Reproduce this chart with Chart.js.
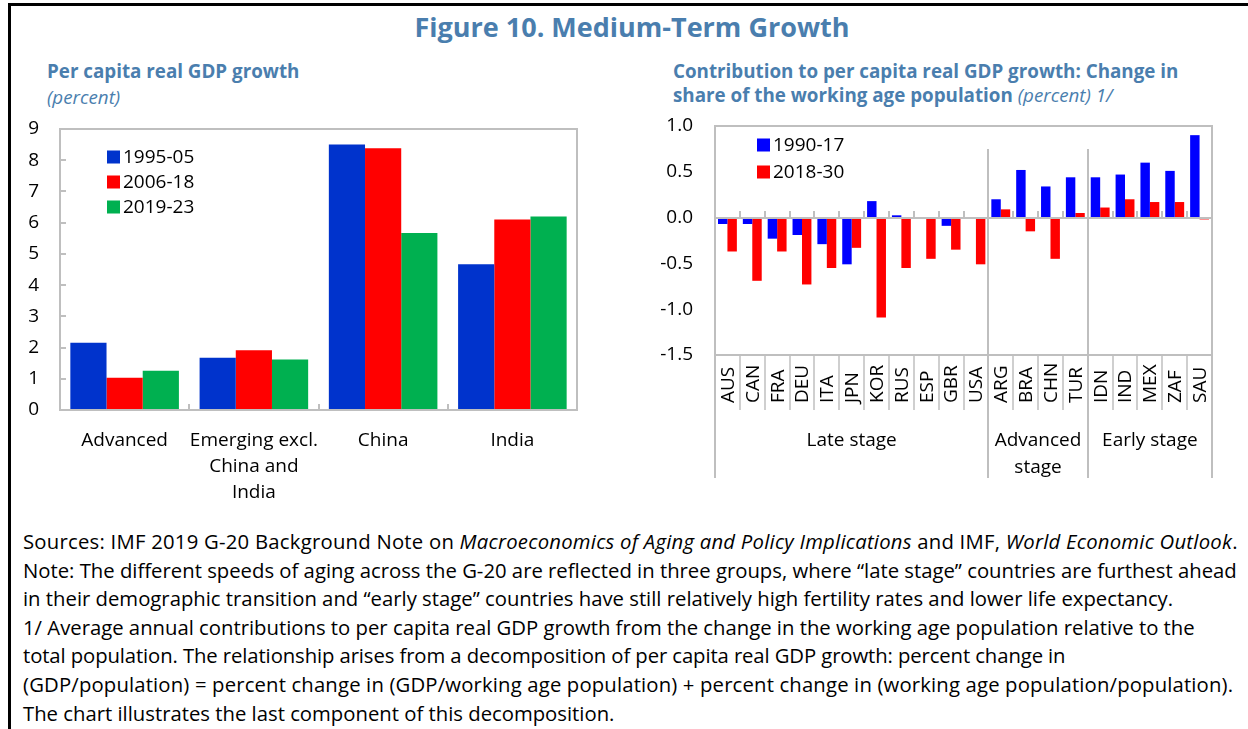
<!DOCTYPE html>
<html><head><meta charset="utf-8">
<script src="https://cdn.jsdelivr.net/npm/chart.js@4.4.1/dist/chart.umd.min.js"></script>
<style>
body{margin:0;width:1248px;height:729px;overflow:hidden;background:#fff;font-family:'Open Sans',sans-serif;color:#000;}
#frame{position:absolute;left:8px;top:3px;width:1240px;height:726px;border-top:3px solid #000;border-left:3px solid #000;box-sizing:border-box;}
.t{position:absolute;white-space:nowrap;}
#title{left:0;width:1264px;text-align:center;top:10px;font-size:27px;line-height:34px;font-weight:700;color:#4a7eae;}
.sub{font-size:18.8px;line-height:24px;font-weight:700;color:#4a7eae;}
.ital{font-style:italic;font-weight:400;}
#notes{position:absolute;left:23px;top:527px;font-size:20.3px;line-height:28.6px;}
#notes div{white-space:nowrap;}
#c1{position:absolute;left:0;top:100px;}
#c2{position:absolute;left:620px;top:100px;}
</style></head>
<body>
<div id="frame"></div>
<div id="title" class="t">Figure 10. Medium-Term Growth</div>
<div class="t sub" style="left:47px;top:59px;">Per capita real GDP growth</div>
<div class="t sub ital" style="left:47px;top:85px;">(percent)</div>
<div class="t sub" style="left:673px;top:59px;">Contribution to per capita real GDP growth: Change in</div>
<div class="t sub" style="left:673px;top:83px;">share of the working age population <span class="ital">(percent) 1/</span></div>
<canvas id="c1" width="600" height="410"></canvas>
<canvas id="c2" width="620" height="390"></canvas>
<div id="notes">
<div style="letter-spacing:0.24px">Sources: IMF 2019 G-20 Background Note on <i>Macroeconomics of Aging and Policy Implications</i> and IMF, <i>World Economic Outlook</i>.</div>
<div>Note: The different speeds of aging across the G-20 are reflected in three groups, where “late stage” countries are furthest ahead</div>
<div>in their demographic transition and “early stage” countries have still relatively high fertility rates and lower life expectancy.</div>
<div>1/ Average annual contributions to per capita real GDP growth from the change in the working age population relative to the</div>
<div style="letter-spacing:-0.1px">total population. The relationship arises from a decomposition of per capita real GDP growth: percent change in</div>
<div style="letter-spacing:0.16px">(GDP/population) = percent change in (GDP/working age population) + percent change in (working age population/population).</div>
<div>The chart illustrates the last component of this decomposition.</div>
</div>
<script>
// ---- Data: left panel ----
const leftCategories = [['Advanced'], ['Emerging excl.', 'China and', 'India'], ['China'], ['India']];
const leftSeriesNames = ['1995-05', '2006-18', '2019-23'];
const growth1995_05 = [2.15, 1.67, 8.50, 4.67];
const growth2006_18 = [1.03, 1.91, 8.38, 6.10];
const growth2019_23 = [1.26, 1.62, 5.67, 6.20];
const leftTicks = [0, 1, 2, 3, 4, 5, 6, 7, 8, 9];

// ---- Data: right panel ----
const countries = ['AUS','CAN','FRA','DEU','ITA','JPN','KOR','RUS','ESP','GBR','USA','ARG','BRA','CHN','TUR','IDN','IND','MEX','ZAF','SAU'];
const rightSeriesNames = ['1990-17', '2018-30'];
const contrib1990_17 = [-0.07,-0.07,-0.23,-0.19,-0.29,-0.51,0.18,0.025,-0.01,-0.09,-0.01,0.20,0.52,0.34,0.44,0.44,0.47,0.60,0.51,0.90];
const contrib2018_30 = [-0.37,-0.69,-0.37,-0.73,-0.55,-0.33,-1.09,-0.55,-0.45,-0.35,-0.51,0.09,-0.15,-0.45,0.05,0.11,0.20,0.17,0.17,-0.02];
const groupNames = [['Late stage'], ['Advanced', 'stage'], ['Early stage']];
const groupSizes = [11, 4, 5];
const rightTicks = [-1.5, -1.0, -0.5, 0.0, 0.5, 1.0];

const FONT = "'Open Sans', sans-serif";
const FS = 19;
Chart.defaults.font.family = FONT;
Chart.defaults.font.size = FS;
Chart.defaults.color = '#000';
const GRAY = '#bfbfbf';

function line(ctx, x1, y1, x2, y2){ ctx.beginPath(); ctx.moveTo(x1,y1); ctx.lineTo(x2,y2); ctx.stroke(); }

function drawLegend(ctx, chart, x0, y0, dy){
  ctx.save();
  ctx.font = FS + "px " + FONT;
  ctx.textBaseline = 'middle';
  ctx.textAlign = 'left';
  chart.data.datasets.forEach((ds, i) => {
    const yy = y0 + i*dy;
    ctx.fillStyle = ds.backgroundColor;
    ctx.fillRect(x0, yy-6.5, 13, 13);
    ctx.fillStyle = '#000';
    ctx.fillText(ds.label, x0+16, yy+1);
  });
  ctx.restore();
}

// keep plot-area top at a chosen canvas offset
function pinTop(chart, target){
  for (let k = 0; k < 6; k++){
    const d = chart.chartArea.top - target;
    if (Math.abs(d) <= 0.5) break;
    chart.config.options.layout.padding.top -= d;
    chart.update('none');
  }
}

const leftDecor = {
  id: 'leftDecor',
  afterDatasetsDraw(chart){
    const {ctx, chartArea:a, scales:{x, y}} = chart;
    ctx.save();
    ctx.strokeStyle = GRAY; ctx.lineWidth = 2;
    ctx.strokeRect(a.left, a.top, a.right-a.left, a.bottom-a.top);
    y.ticks.forEach(t => { const py = Math.round(y.getPixelForValue(t.value)); line(ctx, a.left, py, a.left+6, py); });
    for (let i = 1; i < leftCategories.length; i++){
      const px = Math.round((x.getPixelForValue(i-1) + x.getPixelForValue(i))/2);
      line(ctx, px, a.bottom, px, a.bottom-6);
    }
    ctx.restore();
    drawLegend(ctx, chart, a.left+47, a.top+28, 25);
  }
};

const c1 = new Chart(document.getElementById('c1'), {
  type: 'bar',
  data: {
    labels: leftCategories,
    datasets: [
      {label: leftSeriesNames[0], data: growth1995_05, backgroundColor: '#0033cc'},
      {label: leftSeriesNames[1], data: growth2006_18, backgroundColor: '#ff0000'},
      {label: leftSeriesNames[2], data: growth2019_23, backgroundColor: '#00b050'}
    ]
  },
  options: {
    responsive: false, animation: false, devicePixelRatio: 1,
    layout: {padding: {top: 29, right: 23, left: 0, bottom: 0}},
    datasets: {bar: {categoryPercentage: 0.84, barPercentage: 1.0, borderWidth: 0}},
    plugins: {legend: {display: false}, tooltip: {enabled: false}},
    scales: {
      x: {
        grid: {display: false, drawTicks: false}, border: {display: false},
        ticks: {padding: 17, font: {size: FS, lineHeight: 1.38}, maxRotation: 0, autoSkip: false},
        afterFit(s){ s.height = 100; s.paddingLeft = 0; s.paddingRight = 0; }
      },
      y: {
        min: 0, max: 9,
        grid: {display: false, drawTicks: false}, border: {display: false},
        afterBuildTicks(s){ s.ticks = leftTicks.map(v => ({value: v})); },
        ticks: {padding: 21, font: {size: FS}},
        afterFit(s){ s.width = 60; s.paddingTop = 0; s.paddingBottom = 0; }
      }
    }
  },
  plugins: [leftDecor]
});
pinTop(c1, 29);

const rightDecor = {
  id: 'rightDecor',
  afterDatasetsDraw(chart){
    const {ctx, chartArea:a, scales:{x, y}} = chart;
    const n = countries.length;
    const step = (a.right - a.left)/n;
    const boundary = i => a.left + i*step;
    const extBottom = a.bottom + 123;
    ctx.save();
    ctx.strokeStyle = GRAY; ctx.lineWidth = 2;
    ctx.strokeRect(a.left, a.top, a.right-a.left, a.bottom-a.top);
    line(ctx, a.left, a.bottom, a.left, extBottom);
    line(ctx, a.right, a.bottom, a.right, extBottom);
    const y0 = Math.round(y.getPixelForValue(0));
    line(ctx, a.left, y0, a.right, y0);
    for (let i = 1; i < n; i++){ const px = Math.round(boundary(i)); line(ctx, px, y0, px, y0-7); }
    ctx.lineWidth = 1.5;
    for (let i = 1; i < n; i++){ const px = Math.round(boundary(i)); line(ctx, px, a.bottom, px, a.bottom+55); }
    ctx.lineWidth = 2;
    let acc = 0;
    for (let g = 0; g < groupSizes.length - 1; g++){
      acc += groupSizes[g];
      const px = Math.round(boundary(acc));
      line(ctx, px, a.top+23, px, extBottom);
    }
    ctx.fillStyle = '#000';
    ctx.font = FS + "px " + FONT;
    ctx.textBaseline = 'middle';
    ctx.textAlign = 'left';
    countries.forEach((c, i) => {
      const cx = x.getPixelForValue(i);
      ctx.save(); ctx.translate(cx+1, a.bottom+48); ctx.rotate(-Math.PI/2); ctx.fillText(c, 0, 0); ctx.restore();
    });
    ctx.textAlign = 'center';
    acc = 0;
    groupNames.forEach((lines, g) => {
      const cx = (boundary(acc) + boundary(acc + groupSizes[g]))/2;
      lines.forEach((t, k) => ctx.fillText(t, cx, a.bottom + 86 + k*27));
      acc += groupSizes[g];
    });
    ctx.restore();
    drawLegend(ctx, chart, a.left+42, a.top+19, 27);
  }
};

const c2 = new Chart(document.getElementById('c2'), {
  type: 'bar',
  data: {
    labels: countries,
    datasets: [
      {label: rightSeriesNames[0], data: contrib1990_17, backgroundColor: '#0000ff'},
      {label: rightSeriesNames[1], data: contrib2018_30, backgroundColor: '#ff0000'}
    ]
  },
  options: {
    responsive: false, animation: false, devicePixelRatio: 1,
    layout: {padding: {top: 26, right: 28, left: 0, bottom: 0}},
    datasets: {bar: {categoryPercentage: 0.76, barPercentage: 1.0, borderWidth: 0}},
    plugins: {legend: {display: false}, tooltip: {enabled: false}},
    scales: {
      x: {
        grid: {display: false, drawTicks: false}, border: {display: false},
        ticks: {display: false},
        afterFit(s){ s.height = 135; s.paddingLeft = 0; s.paddingRight = 0; }
      },
      y: {
        min: -1.5, max: 1.0,
        grid: {display: false, drawTicks: false}, border: {display: false},
        afterBuildTicks(s){ s.ticks = rightTicks.map(v => ({value: v})); },
        ticks: {padding: 22, font: {size: FS}, callback: v => Number(v).toFixed(1)},
        afterFit(s){ s.width = 95; s.paddingTop = 0; s.paddingBottom = 0; }
      }
    }
  },
  plugins: [rightDecor]
});
pinTop(c2, 26);
</script>
</body></html>
